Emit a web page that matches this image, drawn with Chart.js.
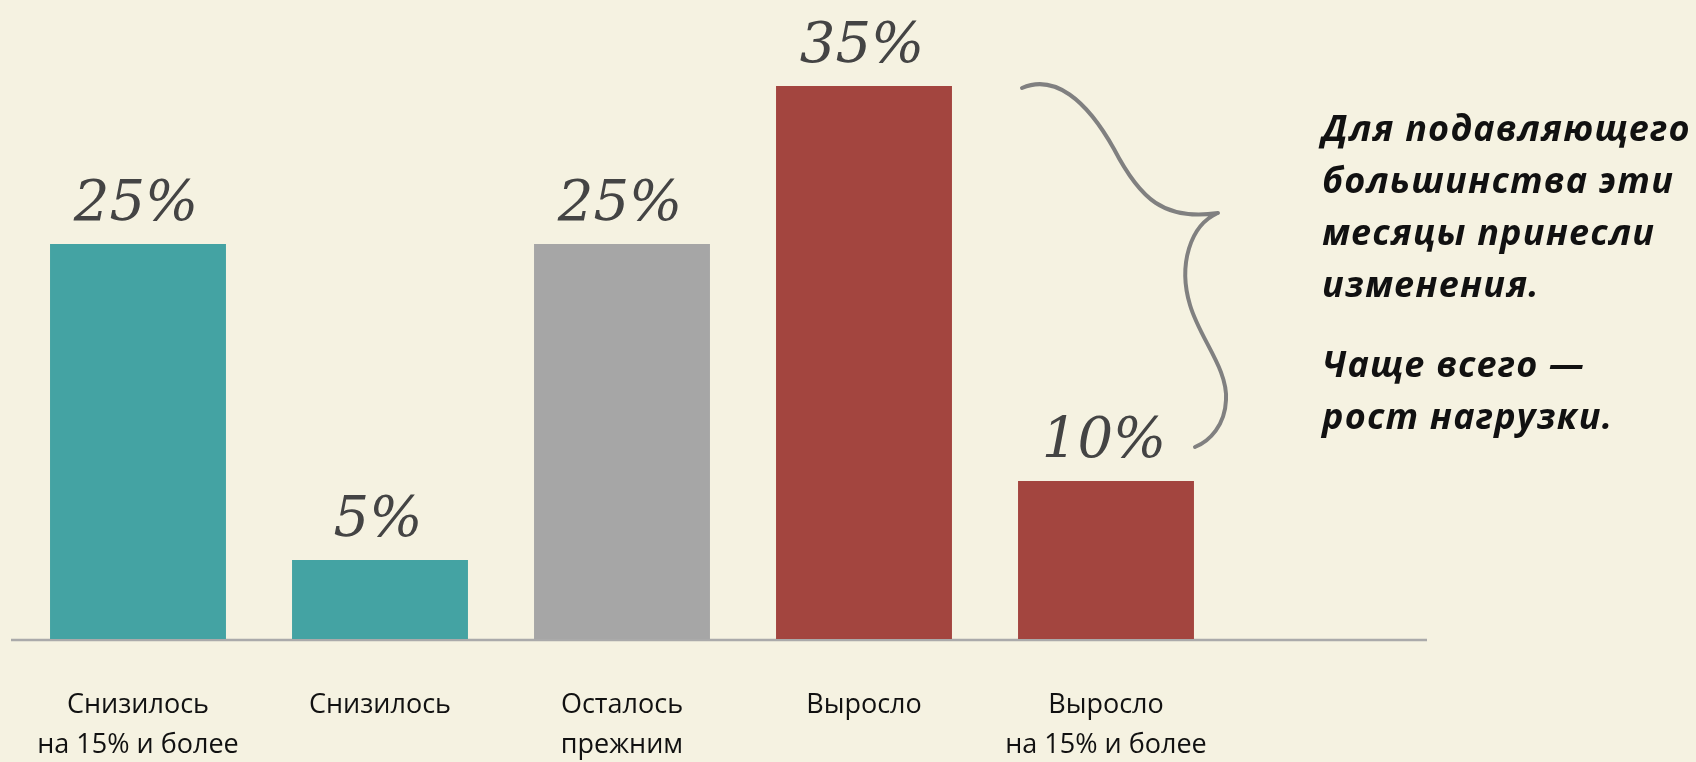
<!DOCTYPE html>
<html><head><meta charset="utf-8">
<script src="https://cdn.jsdelivr.net/npm/chart.js@4/dist/chart.umd.min.js"></script>
<style>
html,body{margin:0;padding:0;background:#f5f2e1;width:1696px;height:762px;overflow:hidden}
#wrap{position:relative;width:1696px;height:762px}
#c{position:absolute;left:0;top:0}
#note{position:absolute;left:1322px;top:102px;font-family:"Open Sans",sans-serif;font-weight:700;font-style:italic;font-size:36px;letter-spacing:1.2px;line-height:52px;color:#111;white-space:nowrap}
#note p{margin:0 0 28px 0}
</style></head><body>
<div id="wrap"><canvas id="c" width="1696" height="762"></canvas>
<div id="note"><p>Для подавляющего<br>большинства эти<br>месяцы принесли<br>изменения.</p><p>Чаще всего —<br>рост нагрузки.</p></div></div>
<script>
const categories = [["Снизилось","на 15% и более"],["Снизилось"],["Осталось","прежним"],["Выросло"],["Выросло","на 15% и более"]];
const values = [25, 5, 25, 35, 10];
const valueLabels = ["25%", "5%", "25%", "35%", "10%"];
const barColors = ["#44a3a3", "#44a3a3", "#a6a6a6", "#a3453f", "#a3453f"];

const baselinePlugin = {
  id: 'baseline',
  beforeDatasetsDraw(chart) {
    const {ctx, chartArea, scales} = chart;
    const y = scales.y.getPixelForValue(0) + 1;
    ctx.save();
    ctx.strokeStyle = '#aaaaaa';
    ctx.lineWidth = 2.5;
    ctx.beginPath();
    ctx.moveTo(chartArea.left - 6, y);
    ctx.lineTo(chartArea.right + 200, y);
    ctx.stroke();
    ctx.restore();
  }
};

const valueLabelPlugin = {
  id: 'valueLabels',
  afterDatasetsDraw(chart) {
    const {ctx} = chart;
    const meta = chart.getDatasetMeta(0);
    ctx.save();
    ctx.font = 'italic 56px "DejaVu Serif", serif';
    ctx.fillStyle = '#444444';
    ctx.textAlign = 'center';
    ctx.textBaseline = 'alphabetic';
    meta.data.forEach((bar, i) => {
      ctx.fillText(valueLabels[i], bar.x - 2, bar.y - 24);
    });
    ctx.restore();
  }
};

const bracePlugin = {
  id: 'brace',
  afterDraw(chart) {
    const {ctx, scales} = chart;
    const ox = scales.x.getPixelForValue(3);
    const oy = scales.y.getPixelForValue(0);
    const P = (dx, dy) => [ox + dx, oy + dy];
    ctx.save();
    ctx.strokeStyle = '#808080';
    ctx.lineWidth = 4;
    ctx.lineCap = 'round';
    ctx.lineJoin = 'round';
    ctx.beginPath();
    let p = P(158, -551); ctx.moveTo(p[0], p[1]);
    let a = P(190, -565), b = P(222, -540); p = P(250, -490);
    ctx.bezierCurveTo(a[0], a[1], b[0], b[1], p[0], p[1]);
    a = P(276, -440); b = P(300, -418); p = P(354, -426);
    ctx.bezierCurveTo(a[0], a[1], b[0], b[1], p[0], p[1]);
    a = P(326, -414); b = P(314, -374); p = P(326, -334);
    ctx.bezierCurveTo(a[0], a[1], b[0], b[1], p[0], p[1]);
    a = P(336, -300); b = P(364, -270); p = P(362, -239);
    ctx.bezierCurveTo(a[0], a[1], b[0], b[1], p[0], p[1]);
    a = P(361, -214); b = P(346, -198); p = P(331, -192);
    ctx.bezierCurveTo(a[0], a[1], b[0], b[1], p[0], p[1]);
    ctx.stroke();
    ctx.restore();
  }
};

new Chart(document.getElementById('c'), {
  type: 'bar',
  data: {
    labels: categories,
    datasets: [{
      data: values,
      backgroundColor: barColors,
      borderWidth: 0,
      categoryPercentage: 1,
      barPercentage: 0.727
    }]
  },
  options: {
    responsive: false,
    animation: false,
    devicePixelRatio: 1,
    layout: {padding: {left: 17, right: 469, top: 7, bottom: 0}},
    plugins: {legend: {display: false}, tooltip: {enabled: false}},
    scales: {
      x: {
        grid: {display: false, drawTicks: false},
        border: {display: false},
        ticks: {
          color: '#111111',
          padding: 46,
          maxRotation: 0,
          autoSkip: false,
          font: {family: '"Open Sans", sans-serif', size: 27, lineHeight: 1.48}
        },
        afterFit(scale) {
          scale.height = 123;
          scale.paddingLeft = 0;
          scale.paddingRight = 0;
        }
      },
      y: {display: false, min: 0, max: 40}
    }
  },
  plugins: [baselinePlugin, valueLabelPlugin, bracePlugin]
});
</script>
</body></html>
